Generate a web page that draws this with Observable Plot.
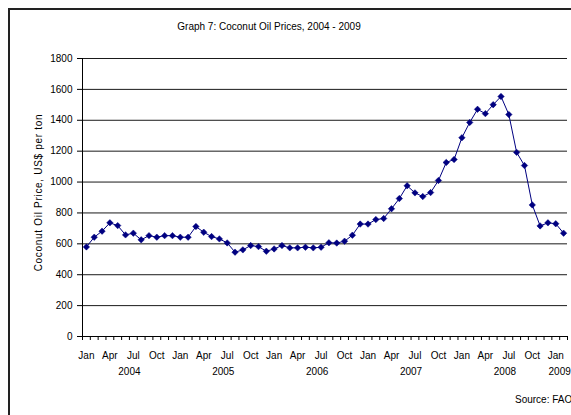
<!DOCTYPE html>
<html>
<head>
<meta charset="utf-8">
<script src="https://cdn.jsdelivr.net/npm/d3@7"></script>
<script src="https://cdn.jsdelivr.net/npm/@observablehq/plot@0.6"></script>
<style>
  html, body { margin: 0; padding: 0; background: #fff; }
  #wrap { position: relative; width: 571px; height: 415px; overflow: hidden; font-family: "Liberation Sans", Arial, sans-serif; }
  #border { position: absolute; left: 8px; top: 8px; width: 700px; height: 600px; border-left: 2px solid #222; border-top: 2px solid #222; box-sizing: border-box; }
  #title { position: absolute; left: 0; width: 538px; top: 21px; text-align: center; font-size: 10px; color: #000; }
  #source { position: absolute; left: 515px; top: 394px; font-size: 10px; color: #000; white-space: nowrap; }
  #chart { position: absolute; left: 0; top: 0; }
  .y-title text { letter-spacing: 0.7px; }
</style>
</head>
<body>
<div id="wrap">
  <div id="border"></div>
  <div id="chart"></div>
  <div id="title">Graph 7: Coconut Oil Prices, 2004 - 2009</div>
  <div id="source">Source: FAO</div>
</div>
<script>
// Monthly coconut oil prices, US$ per ton, Jan 2004 – Feb 2009
const years = [2004, 2005, 2006, 2007, 2008, 2009];
const monthNames = ["Jan", "Feb", "Mar", "Apr", "May", "Jun", "Jul", "Aug", "Sep", "Oct", "Nov", "Dec"];
const prices2004 = [580, 643, 682, 736, 718, 658, 669, 626, 653, 643, 653, 653];
const prices2005 = [643, 643, 712, 675, 647, 632, 606, 546, 561, 589, 582, 552];
const prices2006 = [567, 589, 574, 574, 578, 574, 578, 607, 605, 617, 656, 728];
const prices2007 = [728, 757, 764, 827, 893, 976, 930, 906, 932, 1010, 1127, 1146];
const prices2008 = [1287, 1386, 1471, 1443, 1501, 1554, 1437, 1192, 1107, 852, 716, 736];
const prices2009 = [730, 669];
const yTicks = [0, 200, 400, 600, 800, 1000, 1200, 1400, 1600, 1800];
const yAxisTitle = "Coconut Oil Price, US$ per ton";

const series = [prices2004, prices2005, prices2006, prices2007, prices2008, prices2009];
const rows = series.flatMap((vals, yi) =>
  vals.map((v, m) => ({i: yi * 12 + m, year: years[yi], month: monthNames[m], price: v}))
);
const n = rows.length;

// one label per year, centred under that year's months
const yearLabels = years.map(y => {
  const idx = rows.filter(r => r.year === y).map(r => r.i);
  return {year: String(y), center: (d3.min(idx) + d3.max(idx)) / 2};
});
const quarterIdx = rows.filter(r => ["Jan", "Apr", "Jul", "Oct"].includes(r.month)).map(r => r.i);
const boundaries = d3.range(n + 1).map(k => k - 0.5);

const navy = "#000080";
const font = "\"Liberation Sans\", Arial, sans-serif";

const chart = Plot.plot({
  width: 571,
  height: 415,
  marginLeft: 82,
  marginRight: 4,
  marginTop: 58,
  marginBottom: 79,
  style: {fontFamily: font, fontSize: "10px", color: "#000", background: "transparent", overflow: "visible"},
  x: {type: "linear", domain: [-0.5, n - 0.5], axis: null},
  y: {domain: [0, 1800], axis: null},
  marks: [
    Plot.ruleY(yTicks.filter(t => t > 0), {stroke: "#1a1a1a", strokeWidth: 1}),
    Plot.axisY({ticks: yTicks, tickSize: 5, tickPadding: 5, label: null, fontSize: 10, stroke: "#000",
      tickFormat: d => String(d)}),
    Plot.ruleX([-0.5], {stroke: "#000"}),
    Plot.ruleY([0], {stroke: "#000"}),
    Plot.axisX({ticks: boundaries, tickSize: 4, tickFormat: () => "", label: null, stroke: "#000"}),
    Plot.axisX({ticks: quarterIdx, tickSize: 0, tickPadding: 15, label: null, fontSize: 10,
      tickFormat: i => monthNames[i % 12]}),
    Plot.text(yearLabels, {x: "center", text: "year", frameAnchor: "bottom", dy: 38, dx: 0, fontSize: 10, fill: "#000"}),
    Plot.text([yAxisTitle], {text: d => d, frameAnchor: "left", textAnchor: "middle", lineAnchor: "middle",
      rotate: -90, dx: -44, dy: -5, fontSize: 10, fill: "#000", className: "y-title"}),
    Plot.line(rows, {x: "i", y: "price", stroke: navy, strokeWidth: 1}),
    Plot.dot(rows, {x: "i", y: "price", symbol: "diamond2", r: 2.9, fill: navy, stroke: navy, strokeWidth: 0.5})
  ]
});
document.getElementById("chart").appendChild(chart);
</script>
</body>
</html>
